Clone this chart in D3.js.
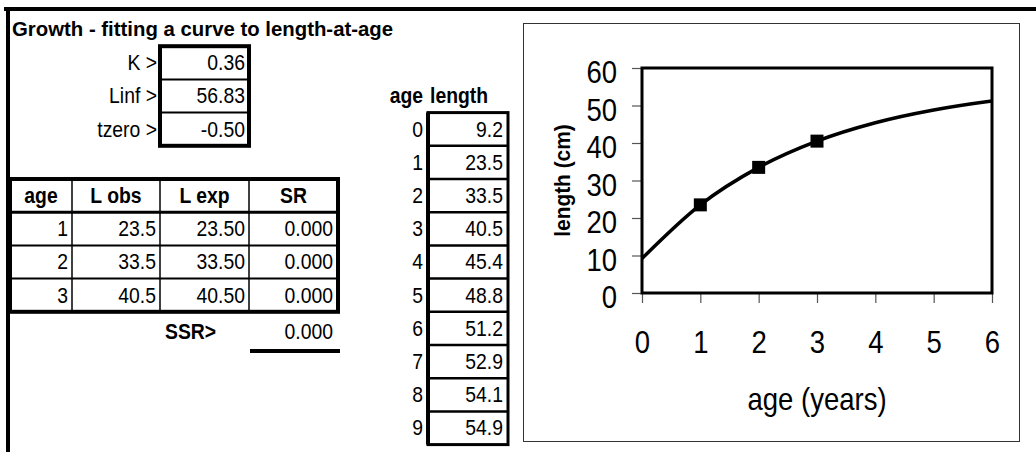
<!DOCTYPE html>
<html><head><meta charset="utf-8">
<script src="https://cdn.jsdelivr.net/npm/d3@7"></script>
<style>
body{margin:0;background:#fff}
svg{display:block}
text{font-family:"Liberation Sans",Arial,sans-serif;fill:#000}
</style>
</head><body>
<svg id="c" width="1036" height="452"></svg>
<script>
// ---------- data ----------
const sheetTitle = "Growth - fitting a curve to length-at-age";
const paramLabels = ["K >", "Linf >", "tzero >"];
const paramValues = [0.36, 56.83, -0.50];
const fitHeaders = ["age", "L obs", "L exp", "SR"];
const fitAges = [1, 2, 3];
const lObs = [23.5, 33.5, 40.5];
const lExp = [23.50, 33.50, 40.50];
const sr = [0.000, 0.000, 0.000];
const ssrLabel = "SSR>";
const ssr = 0.000;
const tableHeaders = ["age", "length"];
const ages = [0, 1, 2, 3, 4, 5, 6, 7, 8, 9];
const lengths = [9.2, 23.5, 33.5, 40.5, 45.4, 48.8, 51.2, 52.9, 54.1, 54.9];
const xTicks = [0, 1, 2, 3, 4, 5, 6];
const yTicks = [0, 10, 20, 30, 40, 50, 60];
const xTitle = "age (years)";
const yTitle = "length (cm)";

// ---------- layout ----------
const svg = d3.select("#c");
const loc = d3.formatLocale({decimal: ".", thousands: ",", grouping: [3], currency: ["", ""], minus: "-"});
const f1 = loc.format(".1f"), f2 = loc.format(".2f"), f3 = loc.format(".3f");
const rowB = d3.scaleLinear().domain([0, 1]).range([13, 46.2]); // row boundary
const rowC = n => (rowB(n) + rowB(n + 1)) / 2;
const FS = 22, TSX = 0.88;
const base = n => rowC(n) + FS * 0.34;

function txt(x, y, s, anchor, bold, size, sx) {
  return svg.append("text").attr("transform", `translate(${x},${y}) scale(${sx || TSX},1)`).text(s)
    .attr("text-anchor", anchor || "start")
    .attr("font-weight", bold ? "bold" : "normal")
    .attr("font-size", size || FS);
}
function hline(x1, x2, y, w) {
  svg.append("line").attr("x1", x1).attr("x2", x2).attr("y1", y).attr("y2", y)
    .attr("stroke", "#000").attr("stroke-width", w);
}
function vline(x, y1, y2, w) {
  svg.append("line").attr("x1", x).attr("x2", x).attr("y1", y1).attr("y2", y2)
    .attr("stroke", "#000").attr("stroke-width", w);
}

// sheet borders
hline(4, 1036, 9, 4);
vline(8, 7, 452, 4);

// title
txt(12, 36, sheetTitle, "start", true, 21, 0.97);

// parameter box
paramLabels.forEach((l, i) => {
  txt(157, base(i + 1), l, "end");
  txt(245, base(i + 1), f2(paramValues[i]), "end");
});
svg.append("rect").attr("x", 160).attr("y", rowB(1)).attr("width", 89)
  .attr("height", rowB(4) - rowB(1)).attr("fill", "none").attr("stroke", "#000").attr("stroke-width", 4);
hline(160, 249, rowB(2), 2);
hline(160, 249, rowB(3), 2);

// fit table
const cols = [10, 72, 160, 249, 338];
fitHeaders.forEach((h, j) => txt((cols[j] + cols[j + 1]) / 2, base(5), h, "middle", true));
fitAges.forEach((a, i) => {
  const r = 6 + i;
  txt(cols[1] - 4, base(r), a, "end");
  txt(cols[2] - 4, base(r), f1(lObs[i]), "end");
  txt(cols[3] - 4, base(r), f2(lExp[i]), "end");
  txt(cols[4] - 5, base(r), f3(sr[i]), "end");
});
for (let j = 1; j < 4; j++) vline(cols[j], rowB(5), rowB(9), 1.5);
hline(cols[0], cols[4], rowB(6), 3);
hline(cols[0], cols[4], rowB(7), 2);
hline(cols[0], cols[4], rowB(8), 2);
svg.append("rect").attr("x", cols[0]).attr("y", rowB(5)).attr("width", cols[4] - cols[0])
  .attr("height", rowB(9) - rowB(5)).attr("fill", "none").attr("stroke", "#000").attr("stroke-width", 4);
txt(165, base(9) + 3, ssrLabel, "start", true);
txt(cols[4] - 5, base(9) + 3, f3(ssr), "end");
hline(250, 340, 351, 4);

// age-length table
txt(423, base(2), tableHeaders[0], "end", true);
txt(430, base(2), tableHeaders[1], "start", true);
ages.forEach((a, i) => {
  const r = 3 + i;
  txt(423, base(r), a, "end");
  txt(503, base(r), f1(lengths[i]), "end");
  if (i > 0) hline(428, 508, rowB(r), 2.5);
});
svg.append("rect").attr("x", 428).attr("y", rowB(3)).attr("width", 80)
  .attr("height", rowB(13) - rowB(3)).attr("fill", "none").attr("stroke", "#000").attr("stroke-width", 3);
vline(428, rowB(3), rowB(13), 4);

// ---------- chart ----------
svg.append("rect").attr("x", 523.5).attr("y", 23.5).attr("width", 496).attr("height", 418)
  .attr("fill", "#fff").attr("stroke", "#333").attr("stroke-width", 1);

const x = d3.scaleLinear().domain([0, 6]).range([642, 992]);
const y = d3.scaleLinear().domain([0, 60]).range([293, 68]);
const SX = 0.86;

const yAx = svg.append("g").attr("transform", "translate(642,0)")
  .call(d3.axisLeft(y).tickValues(yTicks).tickSize(10).tickFormat(d3.format("d")));
yAx.select(".domain").remove();
yAx.selectAll("line").attr("stroke", "#555").attr("stroke-width", 1.2);
yAx.selectAll("text").attr("x", 0).attr("dy", "0.36em").attr("font-size", 32)
  .attr("font-family", "Liberation Sans, Arial, sans-serif")
  .attr("transform", `translate(-25,3) scale(${SX},1)`).attr("fill", "#000");

const xAx = svg.append("g").attr("transform", "translate(0,293)")
  .call(d3.axisBottom(x).tickValues(xTicks).tickSize(10).tickFormat(d3.format("d")));
xAx.select(".domain").remove();
xAx.selectAll("line").attr("stroke", "#555").attr("stroke-width", 1.2);
xAx.selectAll("text").attr("y", 0).attr("dy", 0).attr("font-size", 32)
  .attr("font-family", "Liberation Sans, Arial, sans-serif")
  .attr("transform", `translate(0,60) scale(${SX},1)`).attr("fill", "#000");

// titles
svg.append("text").attr("transform", `translate(817,410) scale(${SX},1)`)
  .attr("text-anchor", "middle").attr("font-size", 32).text(xTitle);
svg.append("text").attr("transform", "translate(570,180.5) rotate(-90) scale(0.95,1)")
  .attr("text-anchor", "middle").attr("font-size", 22).attr("font-weight", "bold").text(yTitle);

// clip + line
svg.append("clipPath").attr("id", "pc").append("rect")
  .attr("x", 642).attr("y", 68).attr("width", 350).attr("height", 225);
const pts = ages.map((a, i) => [a, lengths[i]]);
svg.append("path").datum(pts).attr("clip-path", "url(#pc)")
  .attr("d", d3.line().x(d => x(d[0])).y(d => y(d[1])).curve(d3.curveMonotoneX))
  .attr("fill", "none").attr("stroke", "#000").attr("stroke-width", 3.5);

// plot frame
svg.append("rect").attr("x", 642).attr("y", 68).attr("width", 350).attr("height", 225)
  .attr("fill", "none").attr("stroke", "#000").attr("stroke-width", 3);

// observed markers
svg.selectAll("rect.m").data(fitAges).enter().append("rect").attr("class", "m")
  .attr("x", d => x(d) - 6.5).attr("y", (d, i) => y(lObs[i]) - 6.5)
  .attr("width", 13).attr("height", 13).attr("fill", "#000");
</script>
</body></html>
